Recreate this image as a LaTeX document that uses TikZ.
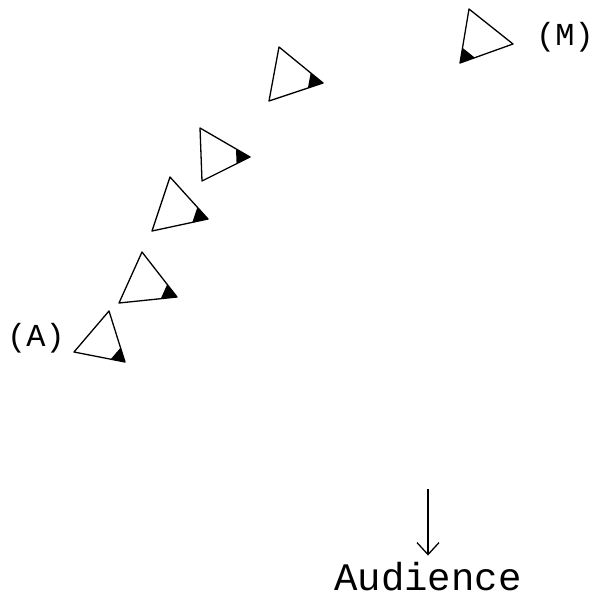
\documentclass[tikz,border=0pt]{standalone}
\usepackage{fontspec}
\setmonofont{Liberation Mono}
\usetikzlibrary{arrows.meta, calc}

\tikzset{
  singer/.style={draw=black, line width=1.3pt, line join=round},
  shade/.style={fill=black},
  mark label/.style={font=\fontsize{32}{34}\selectfont\ttfamily, inner sep=0pt},
  aud label/.style={font=\fontsize{39}{41}\selectfont\ttfamily, inner sep=0pt},
  audarrow/.style={-{Straight Barb[length=12pt, width=22pt, line width=1.3pt]}, line width=1.3pt}
}

\begin{document}
\begin{tikzpicture}[x=1pt, y=-1pt]
  \useasboundingbox (0,0) rectangle (594,597);
  % singers, shaded corner first
  \foreach \n/\s/\b/\c in {m/{460,63}/{469,9}/{513,44},
                           e/{323,83}/{279,47}/{269,101},
                           d/{250,157}/{200,128}/{202,181},
                           c/{208,219}/{170,177}/{152,231},
                           b/{177,297}/{142,252}/{119,303},
                           a/{125,362}/{109,311}/{74,352}}{
    \coordinate (t\n-s) at (\s);
    \coordinate (t\n-b) at (\b);
    \coordinate (t\n-c) at (\c);
    \fill[shade] ($(t\n-s)!0.28!(t\n-b)$) -- (t\n-s) -- ($(t\n-s)!0.28!(t\n-c)$) -- cycle;
    \draw[singer] (t\n-s) -- (t\n-b) -- (t\n-c) -- cycle;
  }
  \node[mark label] (lblA) at (36,338) {(A)};
  \node[mark label] (lblM) at (565,37) {(M)};
  \node[aud label, anchor=base] (audience) at (428,590) {Audience};
  \coordinate (arrtop) at (428,489);
  \draw[audarrow] (arrtop) -- ([yshift=6pt]audience.north);
\end{tikzpicture}
\end{document}
